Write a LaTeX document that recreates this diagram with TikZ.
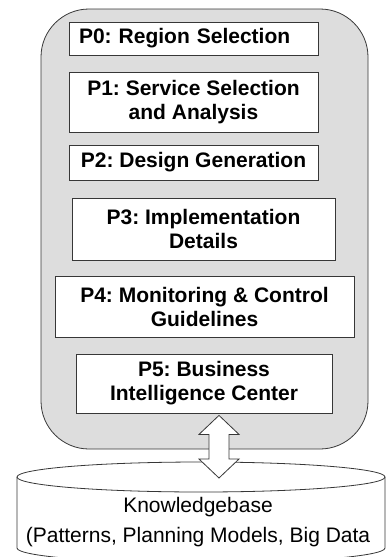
\documentclass[tikz,border=0pt]{standalone}
\usepackage{fontspec}
\setmainfont{Liberation Sans}
\usepackage{tikz}
\usetikzlibrary{math}
\usetikzlibrary{calc}
\frenchspacing

\definecolor{panelgray}{RGB}{221,221,221}
\definecolor{edgegray}{RGB}{55,55,55}

\begin{document}
\begin{tikzpicture}[x=1pt,y=-1pt,
    phase/.style={draw=edgegray, fill=white, line width=0.8pt, align=center,
        inner sep=0pt, font=\fontsize{21}{24}\selectfont\bfseries},
    blockarrow/.style={draw=edgegray, fill=white, line width=0.8pt, line join=miter}]
\useasboundingbox (0,0) rectangle (390,557);
\clip (0,0) rectangle (390,557);
%%%% sizes of the panel and the store
\tikzmath{
\pl=41; \pr=368; \pt=9; \pb=449; \pround=48;
\cx=201; \rx=184; \ry=15; \ctop=477; \cbot=548;
\shaft=10; \head=20; \headlen=19;
}
%%%%%%  grey panel
\draw[draw=edgegray, fill=panelgray, line width=0.8pt, rounded corners=\pround pt] (\pl,\pt) rectangle (\pr,\pb);
%%%%%%  phases P0 ... P5
\node[phase, minimum width=249pt, minimum height=33pt, text width=229pt, inner xsep=10pt, align=left] (p0) at (193.5,38.5) {P0: Region Selection};
\node[phase, minimum width=249pt, minimum height=60pt] (p1) at (193.5,102) {P1: Service Selection\\and Analysis};
\node[phase, minimum width=249pt, minimum height=35pt] (p2) at (193.5,162.5) {P2: Design Generation};
\node[phase, minimum width=263pt, minimum height=62pt] (p3) at (203.5,229) {P3: Implementation\\Details};
\node[phase, minimum width=299pt, minimum height=61pt] (p4) at (204.5,306.5) {P4: Monitoring \& Control\\Guidelines};
\node[phase, minimum width=256pt, minimum height=59pt] (p5) at (204,383.5) {P5: Business\\Intelligence Center};
%%%%%%  knowledgebase cylinder
\draw[draw=edgegray, fill=white, line width=0.8pt] (\cx-\rx,\ctop) -- (\cx-\rx,\cbot) arc(180:360:\rx pt and \ry pt) -- (\cx+\rx,\ctop);
\draw[draw=edgegray, fill=white, line width=0.8pt] (\cx,\ctop) ellipse [x radius=\rx pt, y radius=\ry pt];
\coordinate (kbtop) at (\cx,\ctop);
\node[align=center, inner sep=0pt, font=\fontsize{21}{30}\selectfont] (kb) at (198,522) {Knowledgebase\\(Patterns, Planning Models, Big Data};
%%%%%%  double arrow P5 <-> knowledgebase
\coordinate (a1) at ([xshift=15pt,yshift=-2pt]p5.south);
\coordinate (a2) at ([yshift=-1pt]a1 |- kbtop);
\draw[blockarrow] (a1) -- ++(\head,\headlen) -- ++(-\head+\shaft,0) -- ($(a2)+(\shaft,-\headlen)$) -- ++(\head-\shaft,0) -- (a2) -- ++(-\head,-\headlen) -- ++(\head-\shaft,0) -- ($(a1)+(-\shaft,\headlen)$) -- ++(-\head+\shaft,0) -- cycle;
\end{tikzpicture}
\end{document}
